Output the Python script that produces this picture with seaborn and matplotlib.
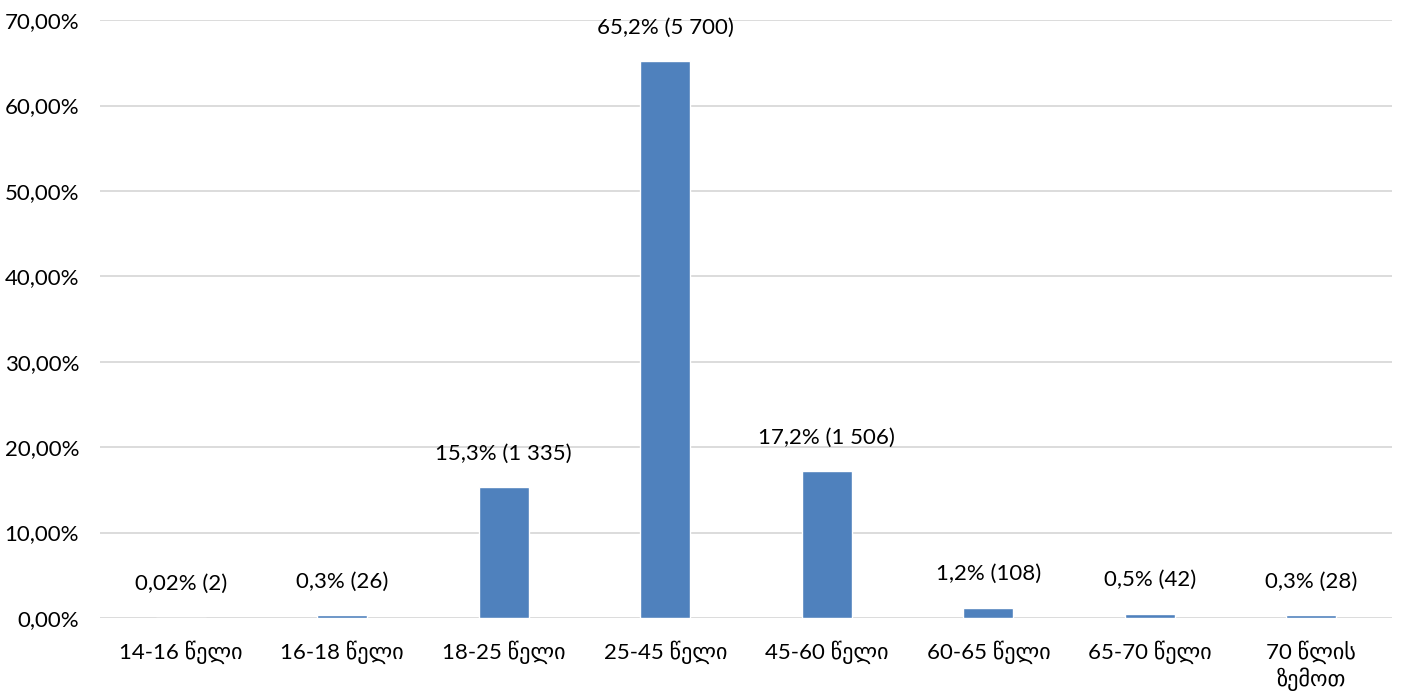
import matplotlib
matplotlib.use('Agg')
import matplotlib.pyplot as plt
import seaborn as sns
import pandas as pd

# data
age_groups = ['14-16 წელი', '16-18 წელი', '18-25 წელი', '25-45 წელი',
              '45-60 წელი', '60-65 წელი', '65-70 წელი', '70 წლის\nზემოთ']
shares = [0.02, 0.3, 15.3, 65.2, 17.2, 1.2, 0.5, 0.3]
counts = [2, 26, 1335, 5700, 1506, 108, 42, 28]

df = pd.DataFrame({'age': age_groups, 'share': shares, 'count': counts})

sns.set_theme(style="white")
plt.rcParams['font.family'] = ['Lato', 'DejaVu Sans']

fig = plt.figure(figsize=(14.02, 6.95), dpi=100)
ax = fig.add_axes([0.0713, 0.1108, 0.9217, 0.8602])

sns.barplot(data=df, x='age', y='share', color='#4F81BD', width=0.31,
            saturation=1, ax=ax, zorder=3)

ax.set_ylim(0, 70)
ax.set_xlim(-0.5, len(age_groups) - 0.5)
ax.set_yticks(range(0, 71, 10))
ax.set_yticklabels([f"{v},00%" for v in range(0, 71, 10)])
ax.yaxis.grid(True, color='#d9d9d9', linewidth=1.3, zorder=0)
ax.set_xlabel('')
ax.set_ylabel('')
for s in ax.spines.values():
    s.set_visible(False)
ax.tick_params(axis='both', length=0, labelsize=16, colors='#000000')
ax.tick_params(axis='y', pad=15)
ax.tick_params(axis='x', pad=16)

# data labels
for i, (p, c) in enumerate(zip(shares, counts)):
    ptxt = f"{p:g}".replace('.', ',')
    ctxt = f"{c:,}".replace(',', ' ')
    ax.annotate(f"{ptxt}% ({ctxt})", xy=(i, p), xytext=(0, 17),
                textcoords='offset points', ha='center', va='bottom',
                fontsize=16, color='#000000', annotation_clip=False)

plt.savefig('out.png', dpi=100)
